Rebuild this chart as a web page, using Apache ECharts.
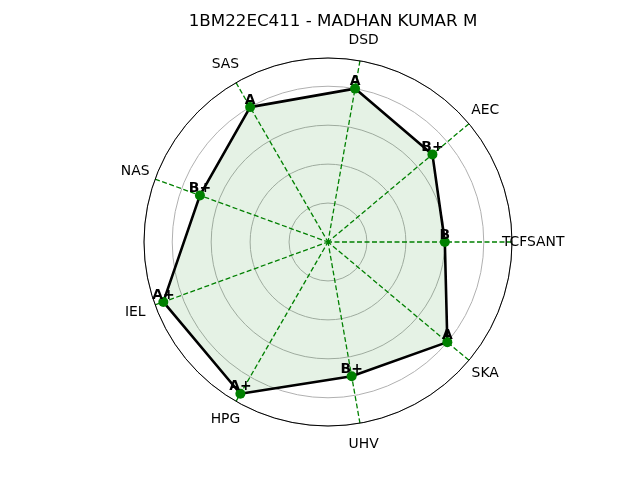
<!DOCTYPE html>
<html>
<head>
<meta charset="utf-8">
<script src="https://cdn.jsdelivr.net/npm/echarts@6/dist/echarts.min.js"></script>
<style>
  html, body { margin: 0; padding: 0; background: #fff; }
  #chart { width: 640px; height: 480px; }
</style>
</head>
<body>
<div id="chart"></div>
<script>
// subjects, in counter-clockwise order starting at 0 degrees
const subjects = ['TCFSANT', 'AEC', 'DSD', 'SAS', 'NAS', 'IEL', 'HPG', 'UHV', 'SKA']
const grades = ['B', 'B+', 'A', 'A', 'B+', 'A+', 'A+', 'B+', 'A']
const gradePoints = [6, 7, 8, 8, 7, 9, 9, 7, 8]
const title = '1BM22EC411 - MADHAN KUMAR M'

const step = 360 / subjects.length
const angles = subjects.map((_, i) => i * step)

// closed polygon: repeat first point at 360
const lineData = gradePoints.map((v, i) => ({
  value: [v, angles[i]],
  label: { show: true, formatter: grades[i] }
}))
lineData.push({ value: [gradePoints[0], 360], symbol: 'none', label: { show: false } })

const rMax = 9.45
const labelData = subjects.map((s, i) => ({ value: [rMax * 1.115, angles[i]], name: s }))

const chart = echarts.init(document.getElementById('chart'))
chart.setOption({
  animation: false,
  title: {
    text: title,
    left: 328,
    textAlign: 'center',
    top: 8,
    textStyle: { fontFamily: 'DejaVu Sans', fontSize: 16.7, fontWeight: 'normal', color: '#000' }
  },
  polar: { center: [328, 242], radius: 184 },
  angleAxis: {
    type: 'value',
    min: 0,
    max: 360,
    interval: step,
    startAngle: 0,
    clockwise: false,
    axisLine: { show: true, lineStyle: { color: '#000', width: 1 } },
    axisTick: { show: false },
    axisLabel: { show: false },
    splitLine: { show: true, lineStyle: { color: '#008000', type: [5, 2.5], width: 1.3 } }
  },
  radiusAxis: {
    min: 0,
    max: rMax,
    interval: 2,
    axisLine: { show: false },
    axisTick: { show: false },
    axisLabel: { show: false },
    splitLine: { show: true, lineStyle: { color: '#b0b0b0', width: 1 } }
  },
  series: [
    {
      type: 'line',
      coordinateSystem: 'polar',
      data: lineData,
      symbol: 'circle',
      symbolSize: 10,
      itemStyle: { color: '#008000', opacity: 1 },
      lineStyle: { color: '#000', width: 2.6 },
      areaStyle: { color: 'rgba(0,128,0,0.1)', opacity: 1 },
      label: {
        position: 'top',
        distance: -5,
        fontFamily: 'DejaVu Sans',
        fontSize: 13.9,
        fontWeight: 'bold',
        color: '#000'
      },
      z: 3
    },
    {
      type: 'scatter',
      coordinateSystem: 'polar',
      data: labelData,
      symbolSize: 0,
      clip: false,
      silent: true,
      itemStyle: { opacity: 1 },
      label: {
        show: true,
        position: 'inside',
        formatter: p => p.name,
        fontFamily: 'DejaVu Sans',
        fontSize: 13.9,
        color: '#000'
      }
    }
  ]
})
</script>
</body>
</html>
